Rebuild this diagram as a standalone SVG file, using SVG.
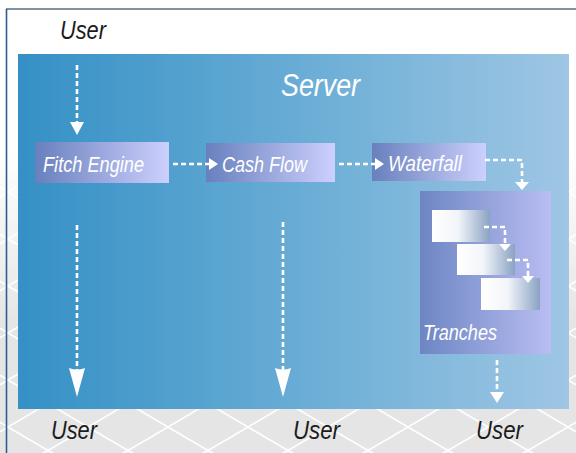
<svg xmlns="http://www.w3.org/2000/svg" width="576" height="453" viewBox="0 0 576 453">
<defs>
  <pattern id="lattice" patternUnits="userSpaceOnUse" x="8" y="192" width="80" height="47">
    <rect width="80" height="47" fill="#e5e5e5"/>
    <path d="M0 0 L80 47 M0 47 L80 0" stroke="#ffffff" stroke-width="1.6" fill="none"/>
  </pattern>
  <linearGradient id="fade" x1="0" y1="0" x2="0" y2="453" gradientUnits="userSpaceOnUse">
    <stop offset="0" stop-color="#ffffff" stop-opacity="1"/>
    <stop offset="0.33" stop-color="#ffffff" stop-opacity="1"/>
    <stop offset="0.72" stop-color="#ffffff" stop-opacity="0"/>
  </linearGradient>
  <linearGradient id="server" x1="0" y1="0" x2="1" y2="0">
    <stop offset="0" stop-color="#3490c5"/>
    <stop offset="0.5" stop-color="#68acd5"/>
    <stop offset="1" stop-color="#9fc6e4"/>
  </linearGradient>
  <linearGradient id="box" x1="0" y1="0" x2="1" y2="0">
    <stop offset="0" stop-color="#6880bd"/>
    <stop offset="1" stop-color="#cdd0fd"/>
  </linearGradient>
  <linearGradient id="tbox" x1="0" y1="0" x2="1" y2="0">
    <stop offset="0" stop-color="#6d86c3"/>
    <stop offset="1" stop-color="#b9bdf2"/>
  </linearGradient>
  <linearGradient id="tr" x1="0" y1="0" x2="1" y2="0">
    <stop offset="0" stop-color="#ffffff"/>
    <stop offset="0.45" stop-color="#f2f5f9"/>
    <stop offset="1" stop-color="#8aa2c3"/>
  </linearGradient>
  <style>
    .dash { fill: none; stroke: #ffffff; stroke-width: 2.6; stroke-dasharray: 5 3; }
    .head { fill: #ffffff; }
    .lbl { font-family: "Liberation Sans", Arial, sans-serif; font-style: italic; fill: #ffffff; font-size: 22px; }
    .user { font-family: "Liberation Sans", Arial, sans-serif; font-style: italic; fill: #1c1c1c; font-size: 25px; }
  </style>
</defs>

<g id="background">
  <rect x="0" y="0" width="576" height="453" fill="url(#lattice)"/>
  <rect x="0" y="0" width="576" height="453" fill="url(#fade)"/>
  <line x1="6" y1="9" x2="576" y2="9" stroke="#7f93a7" stroke-width="2"/>
  <line x1="6.5" y1="9" x2="6.5" y2="453" stroke="#2c5f8f" stroke-width="1.6"/>
</g>

<g id="server">
  <rect x="18" y="54" width="551" height="355" fill="url(#server)"/>
  <text x="281" y="96" font-family="Liberation Sans, Arial, sans-serif" font-style="italic" font-size="31" fill="#ffffff" textLength="79" lengthAdjust="spacingAndGlyphs">Server</text>
</g>

<g id="user-top">
  <text class="user" x="60" y="39" textLength="46" lengthAdjust="spacingAndGlyphs">User</text>
</g>

<g id="fitch-engine">
  <rect x="35" y="142" width="134" height="41" fill="url(#box)"/>
  <text class="lbl" x="43" y="172" textLength="101" lengthAdjust="spacingAndGlyphs">Fitch Engine</text>
</g>

<g id="cash-flow">
  <rect x="206" y="143" width="129" height="39" fill="url(#box)"/>
  <text class="lbl" x="222" y="172" textLength="85" lengthAdjust="spacingAndGlyphs">Cash Flow</text>
</g>

<g id="waterfall">
  <rect x="372" y="143" width="114" height="38" fill="url(#box)"/>
  <text class="lbl" x="388" y="171" textLength="74" lengthAdjust="spacingAndGlyphs">Waterfall</text>
</g>

<g id="tranches">
  <rect x="420" y="191" width="131" height="163" fill="url(#tbox)"/>
  <rect x="432" y="210" width="58" height="32" fill="url(#tr)"/>
  <rect x="457" y="244" width="58" height="31" fill="url(#tr)"/>
  <rect x="481" y="278" width="59" height="32" fill="url(#tr)"/>
  <path class="dash" d="M484 227 H505 V245"/>
  <polygon class="head" points="499,244 511,244 505,251"/>
  <path class="dash" d="M507 260 H528 V277"/>
  <polygon class="head" points="522,276 534,276 528,283"/>
  <text class="lbl" x="423" y="340" textLength="74" lengthAdjust="spacingAndGlyphs">Tranches</text>
</g>

<g id="user-1">
  <text class="user" x="51" y="439" textLength="46" lengthAdjust="spacingAndGlyphs">User</text>
</g>
<g id="user-2">
  <text class="user" x="293" y="439" textLength="47" lengthAdjust="spacingAndGlyphs">User</text>
</g>
<g id="user-3">
  <text class="user" x="476" y="439" textLength="47" lengthAdjust="spacingAndGlyphs">User</text>
</g>

<g id="connectors">
  <line class="dash" x1="77" y1="65" x2="77" y2="123"/>
  <polygon class="head" points="70,122 84,122 77,135"/>

  <line class="dash" x1="173" y1="164" x2="211" y2="164"/>
  <polygon class="head" points="209,158 209,170 218,164"/>

  <line class="dash" x1="339" y1="164" x2="377" y2="164"/>
  <polygon class="head" points="375,158 375,170 384,164"/>

  <path class="dash" d="M485 160 H522 V182"/>
  <polygon class="head" points="515,182 529,182 522,190"/>

  <line class="dash" x1="77" y1="225" x2="77" y2="370"/>
  <path class="head" d="M69 368 Q77 371 85 368 L77 397 Z"/>

  <line class="dash" x1="283" y1="222" x2="283" y2="370"/>
  <path class="head" d="M275 368 Q283 371 291 368 L283 397 Z"/>

  <line class="dash" x1="497" y1="360" x2="497" y2="393"/>
  <polygon class="head" points="490,392 504,392 497,403"/>
</g>
</svg>
